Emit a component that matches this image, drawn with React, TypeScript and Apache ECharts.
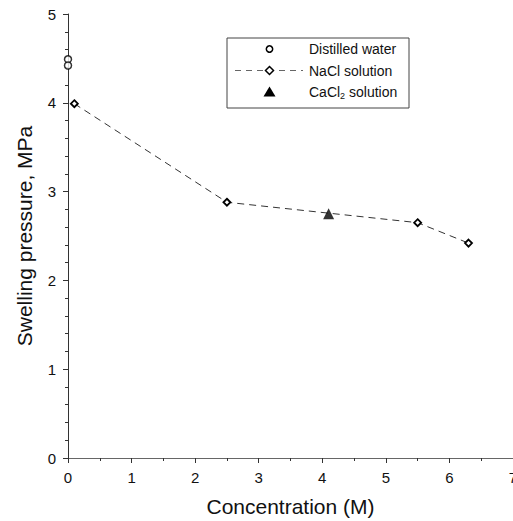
import React, { useEffect, useRef } from "react";
import * as echarts from "echarts";

const waterX = [0, 0];
const waterY = [4.49, 4.42];
const naclX = [0.1, 2.5, 5.5, 6.3];
const naclY = [3.99, 2.88, 2.65, 2.42];
const caclX = [4.1];
const caclY = [2.75];
const xTicks = [0, 1, 2, 3, 4, 5, 6, 7];
const yTicks = [0, 1, 2, 3, 4, 5];

const FONT = "Liberation Sans, Arial, sans-serif";
const AXIS = "#333";

export default function App() {
  const ref = useRef<HTMLDivElement>(null);
  useEffect(() => {
    if (!ref.current) return;
    const chart = echarts.init(ref.current, null, { renderer: "svg" });
    const pairs = (xs: number[], ys: number[]) => xs.map((x, i) => [x, ys[i]]);
    const legendLeft = 227;
    const legendTop = 38;
    const rows = [49, 70.5, 92];
    chart.setOption({
      animation: false,
      grid: { left: 68, top: 14, width: 445, height: 444, outerBoundsMode: "none", containLabel: false },
      xAxis: [
        {
          type: "value",
          min: xTicks[0],
          max: xTicks[xTicks.length - 1],
          interval: 1,
          name: "Concentration (M)",
          nameLocation: "middle",
          nameGap: 38,
          nameTextStyle: { fontFamily: FONT, fontSize: 21, color: "#111" },
          axisLine: { show: true, onZero: false, lineStyle: { color: AXIS, width: 1 } },
          axisTick: { show: true, inside: false, length: 5, lineStyle: { color: AXIS } },
          minorTick: { show: true, splitNumber: 2, length: 3, lineStyle: { color: AXIS } },
          axisLabel: { fontFamily: FONT, fontSize: 15, color: "#111", margin: 12 },
          splitLine: { show: false },
        },
        {
          type: "value",
          position: "top",
          min: xTicks[0],
          max: xTicks[xTicks.length - 1],
          interval: 1,
          axisLine: { show: true, lineStyle: { color: "#666", width: 1 } },
          axisTick: { show: false },
          axisLabel: { show: false },
          splitLine: { show: false },
        },
      ],
      yAxis: {
        type: "value",
        min: yTicks[0],
        max: yTicks[yTicks.length - 1],
        interval: 1,
        name: "Swelling pressure, MPa",
        nameLocation: "middle",
        nameGap: 33,
        nameTextStyle: { fontFamily: FONT, fontSize: 21, color: "#111" },
        axisLine: { show: true, onZero: false, lineStyle: { color: AXIS, width: 1 } },
        axisTick: { show: true, inside: false, length: 5, lineStyle: { color: AXIS } },
        minorTick: { show: true, splitNumber: 5, length: 3, lineStyle: { color: AXIS } },
        axisLabel: { fontFamily: FONT, fontSize: 15, color: "#111", margin: 12 },
        splitLine: { show: false },
      },
      series: [
        {
          name: "Distilled water",
          type: "scatter",
          data: pairs(waterX, waterY),
          symbol: "circle",
          symbolSize: 7,
          itemStyle: { color: "#fff", borderColor: "#000", borderWidth: 1.5 },
          z: 5,
        },
        {
          name: "NaCl solution",
          type: "line",
          data: pairs(naclX, naclY),
          symbol: "diamond",
          symbolSize: 7,
          showSymbol: true,
          lineStyle: { color: "#333", width: 1, type: [7, 5] },
          itemStyle: { color: "#fff", borderColor: "#000", borderWidth: 1.8 },
          z: 4,
        },
        {
          name: "CaCl2 solution",
          type: "scatter",
          data: pairs(caclX, caclY),
          symbol: "triangle",
          symbolSize: 11,
          itemStyle: { color: "#000" },
          z: 6,
        },
      ],
      graphic: [
        {
          type: "rect",
          shape: { x: legendLeft, y: legendTop, width: 182, height: 70 },
          style: { fill: "#fff", stroke: "#444", lineWidth: 1 },
          z: 10,
        },
        {
          type: "circle",
          shape: { cx: 269.5, cy: rows[0], r: 3.2 },
          style: { fill: "#fff", stroke: "#000", lineWidth: 1.5 },
          z: 11,
        },
        {
          type: "line",
          shape: { x1: 235, y1: rows[1], x2: 303, y2: rows[1] },
          style: { stroke: "#666", lineWidth: 1.2, lineDash: [6, 5] },
          z: 11,
        },
        {
          type: "polygon",
          shape: { points: [[269.5, rows[1] - 4], [273.5, rows[1]], [269.5, rows[1] + 4], [265.5, rows[1]]] },
          style: { fill: "#fff", stroke: "#000", lineWidth: 1.5 },
          z: 12,
        },
        {
          type: "polygon",
          shape: { points: [[269.5, rows[2] - 5.5], [275.5, rows[2] + 4.5], [263.5, rows[2] + 4.5]] },
          style: { fill: "#000" },
          z: 11,
        },
        {
          type: "text",
          x: 309,
          y: rows[0],
          style: { text: "Distilled water", font: `14px ${FONT}`, fill: "#111", verticalAlign: "middle" },
          z: 11,
        },
        {
          type: "text",
          x: 309,
          y: rows[1],
          style: { text: "NaCl solution", font: `14px ${FONT}`, fill: "#111", verticalAlign: "middle" },
          z: 11,
        },
        {
          type: "text",
          x: 309,
          y: rows[2],
          style: {
            text: "{a|CaCl}{b|2}{a| solution}",
            verticalAlign: "middle",
            rich: {
              a: { fontFamily: FONT, fontSize: 14, fill: "#111", color: "#111" },
              b: { fontFamily: FONT, fontSize: 9, fill: "#111", color: "#111", padding: [7, 0, 0, 0] },
            },
          },
          z: 11,
        },
      ],
    });
    return () => chart.dispose();
  }, []);
  return (
    <div
      ref={ref}
      style={{ position: "fixed", left: 0, top: 0, width: 513, height: 521, background: "#fff" }}
    />
  );
}
